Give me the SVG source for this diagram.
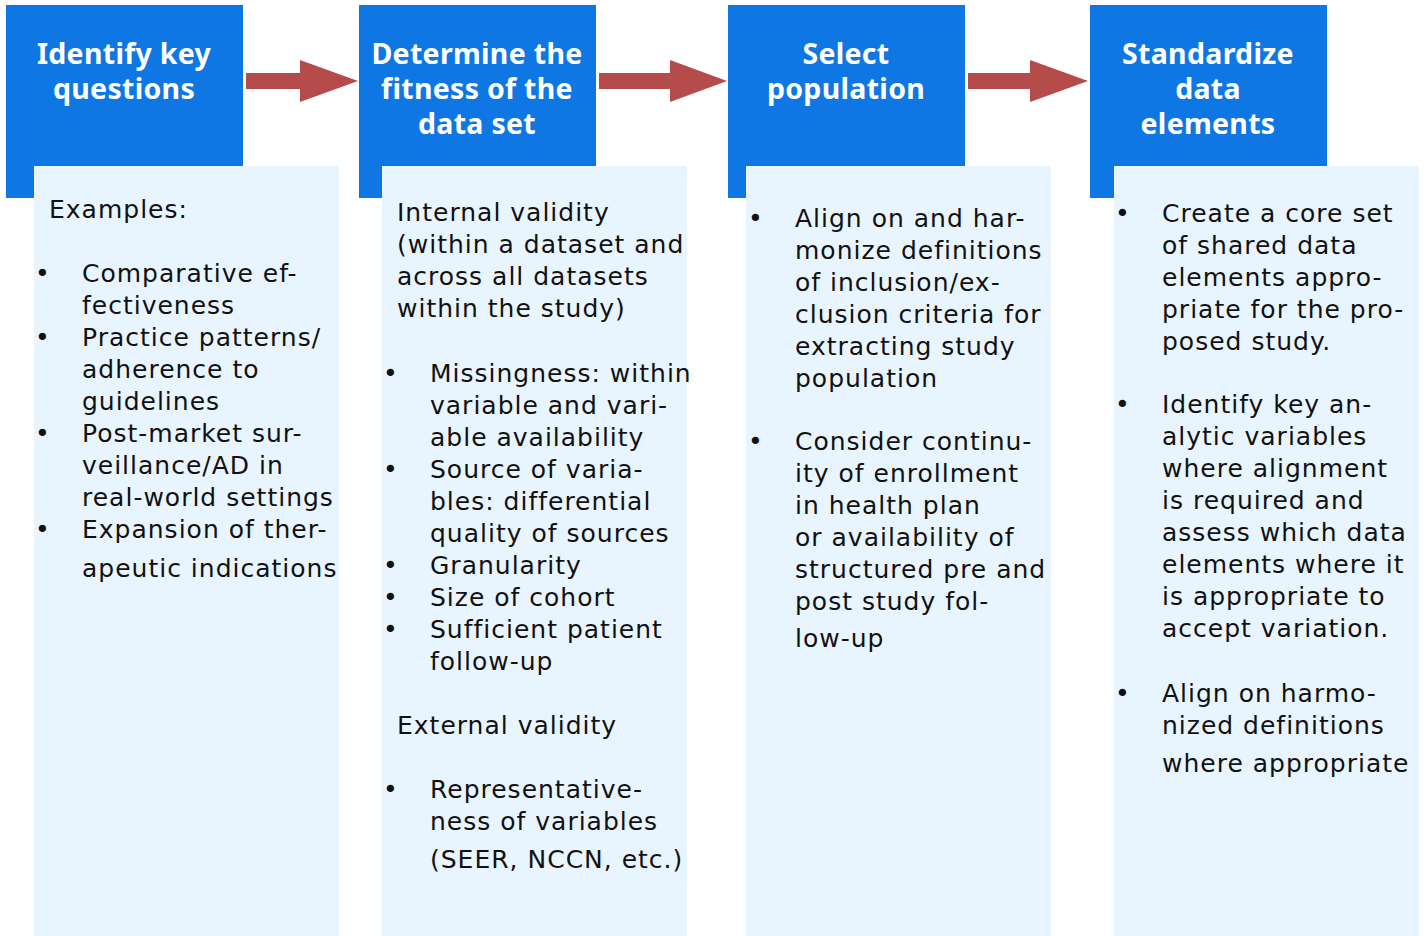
<svg xmlns="http://www.w3.org/2000/svg" width="1426" height="936" viewBox="0 0 1426 936">
<style>
.hd{fill:#0F77E3}
.bd{fill:#E9F5FE}
.ttl{font-family:"Noto Sans","Open Sans",sans-serif;font-weight:bold;font-size:28.5px;letter-spacing:0.3px;fill:#fff;text-anchor:middle}
.tx{font-family:"DejaVu Sans","Noto Sans",sans-serif;font-size:25px;letter-spacing:1px;fill:#111}
.arr{fill:#B54C4B}
</style>
<rect width="1426" height="936" fill="#fff"/>
<g id="connectors">
<polygon class="arr" points="246,73 300,73 300,60 358,81 300,102 300,89 246,89"/>
<polygon class="arr" points="599,73 670,73 670,60 727,81 670,102 670,89 599,89"/>
<polygon class="arr" points="968,73 1030,73 1030,60 1088,81 1030,102 1030,89 968,89"/>
</g>
<g id="node1">
<rect class="hd" x="6" y="5" width="237" height="193"/>
<rect class="bd" x="34" y="166" width="305" height="770"/>
<text class="ttl" x="124" y="64">Identify key</text>
<text class="ttl" x="124" y="99">questions</text>
<text class="tx" x="49" y="218">Examples:</text>
<g class="tx">
<text x="35" y="282">•</text><text x="35" y="346">•</text><text x="35" y="442">•</text><text x="35" y="538">•</text>
<text x="82" y="282">Comparative ef-</text>
<text x="82" y="314">fectiveness</text>
<text x="82" y="346">Practice patterns/</text>
<text x="82" y="378">adherence to</text>
<text x="82" y="410">guidelines</text>
<text x="82" y="442">Post-market sur-</text>
<text x="82" y="474">veillance/AD in</text>
<text x="82" y="506">real-world settings</text>
<text x="82" y="538">Expansion of ther-</text>
<text x="82" y="577">apeutic indications</text>
</g>
</g>
<g id="node2">
<rect class="hd" x="359" y="5" width="237" height="193"/>
<rect class="bd" x="382" y="166" width="305" height="770"/>
<text class="ttl" x="477" y="64">Determine the</text>
<text class="ttl" x="477" y="99">fitness of the</text>
<text class="ttl" x="477" y="134">data set</text>
<g class="tx">
<text x="397" y="221">Internal validity</text>
<text x="397" y="253">(within a dataset and</text>
<text x="397" y="285">across all datasets</text>
<text x="397" y="317">within the study)</text>
<text x="383" y="382">•</text><text x="383" y="478">•</text><text x="383" y="574">•</text><text x="383" y="606">•</text><text x="383" y="638">•</text><text x="383" y="798">•</text>
<text x="430" y="382">Missingness: within</text>
<text x="430" y="414">variable and vari-</text>
<text x="430" y="446">able availability</text>
<text x="430" y="478">Source of varia-</text>
<text x="430" y="510">bles: differential</text>
<text x="430" y="542">quality of sources</text>
<text x="430" y="574">Granularity</text>
<text x="430" y="606">Size of cohort</text>
<text x="430" y="638">Sufficient patient</text>
<text x="430" y="670">follow-up</text>
<text x="397" y="734">External validity</text>
<text x="430" y="798">Representative-</text>
<text x="430" y="830">ness of variables</text>
<text x="430" y="868">(SEER, NCCN, etc.)</text>
</g>
</g>
<g id="node3">
<rect class="hd" x="728" y="5" width="237" height="193"/>
<rect class="bd" x="746" y="166" width="305" height="770"/>
<text class="ttl" x="846" y="64">Select</text>
<text class="ttl" x="846" y="99">population</text>
<g class="tx">
<text x="748" y="227">•</text><text x="748" y="450">•</text>
<text x="795" y="227">Align on and har-</text>
<text x="795" y="259">monize definitions</text>
<text x="795" y="291">of inclusion/ex-</text>
<text x="795" y="323">clusion criteria for</text>
<text x="795" y="355">extracting study</text>
<text x="795" y="387">population</text>
<text x="795" y="450">Consider continu-</text>
<text x="795" y="482">ity of enrollment</text>
<text x="795" y="514">in health plan</text>
<text x="795" y="546">or availability of</text>
<text x="795" y="578">structured pre and</text>
<text x="795" y="610">post study fol-</text>
<text x="795" y="647">low-up</text>
</g>
</g>
<g id="node4">
<rect class="hd" x="1090" y="5" width="237" height="193"/>
<rect class="bd" x="1114" y="166" width="305" height="770"/>
<text class="ttl" x="1208" y="64">Standardize</text>
<text class="ttl" x="1208" y="99">data</text>
<text class="ttl" x="1208" y="134">elements</text>
<g class="tx">
<text x="1115" y="222">•</text><text x="1115" y="413">•</text><text x="1115" y="702">•</text>
<text x="1162" y="222">Create a core set</text>
<text x="1162" y="254">of shared data</text>
<text x="1162" y="286">elements appro-</text>
<text x="1162" y="318">priate for the pro-</text>
<text x="1162" y="350">posed study.</text>
<text x="1162" y="413">Identify key an-</text>
<text x="1162" y="445">alytic variables</text>
<text x="1162" y="477">where alignment</text>
<text x="1162" y="509">is required and</text>
<text x="1162" y="541">assess which data</text>
<text x="1162" y="573">elements where it</text>
<text x="1162" y="605">is appropriate to</text>
<text x="1162" y="637">accept variation.</text>
<text x="1162" y="702">Align on harmo-</text>
<text x="1162" y="734">nized definitions</text>
<text x="1162" y="772">where appropriate</text>
</g>
</g>
</svg>
